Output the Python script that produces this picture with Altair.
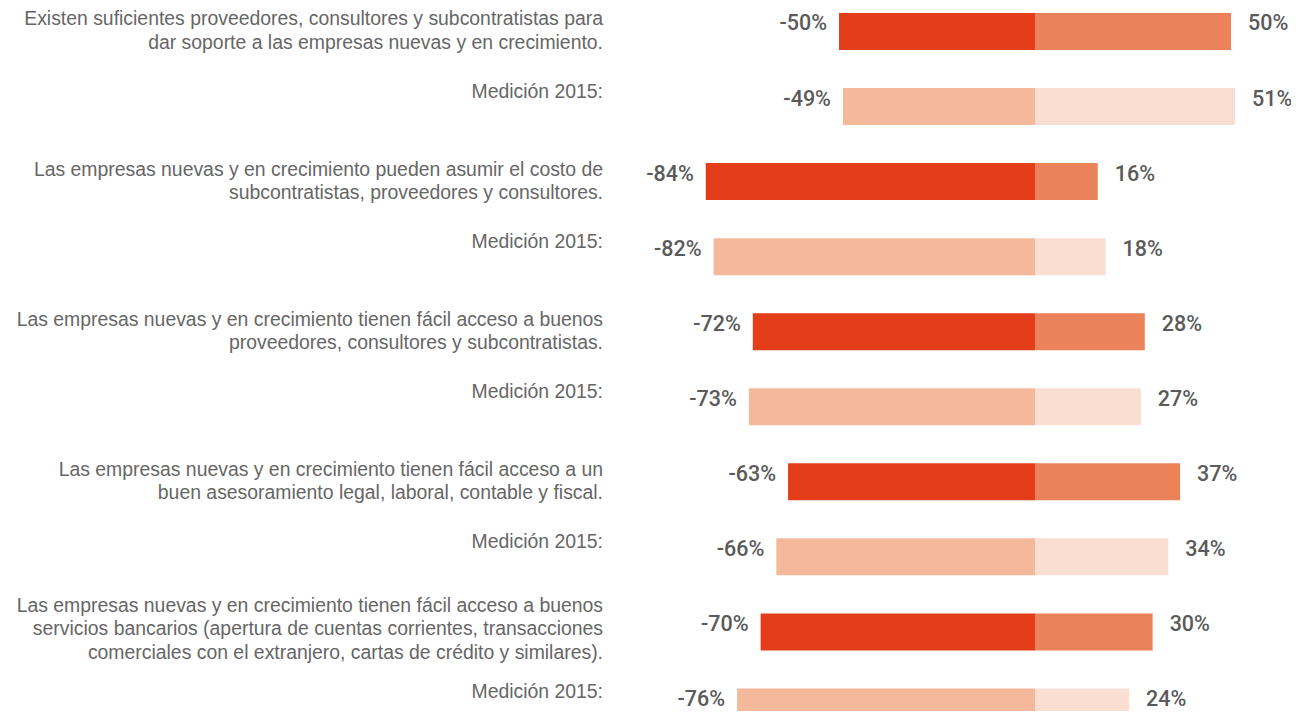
import altair as alt
import pandas as pd

questions = [
    "Existen suficientes proveedores, consultores y subcontratistas para\ndar soporte a las empresas nuevas y en crecimiento.",
    "Las empresas nuevas y en crecimiento pueden asumir el costo de\nsubcontratistas, proveedores y consultores.",
    "Las empresas nuevas y en crecimiento tienen fácil acceso a buenos\nproveedores, consultores y subcontratistas.",
    "Las empresas nuevas y en crecimiento tienen fácil acceso a un\nbuen asesoramiento legal, laboral, contable y fiscal.",
    "Las empresas nuevas y en crecimiento tienen fácil acceso a buenos\nservicios bancarios (apertura de cuentas corrientes, transacciones\ncomerciales con el extranjero, cartas de crédito y similares).",
]
previous_label = "Medición 2015:"
neg_current = [-50, -84, -72, -63, -70]
pos_current = [50, 16, 28, 37, 30]
neg_2015 = [-49, -82, -73, -66, -76]
pos_2015 = [51, 18, 27, 34, 24]

rows = []
bars = []
for i, q in enumerate(questions):
    for k, (kind, lab, n, p) in enumerate([
        ("actual", q, neg_current[i], pos_current[i]),
        ("2015", previous_label, neg_2015[i], pos_2015[i]),
    ]):
        idx = 2 * i + k
        rows.append(dict(idx=idx, kind=kind, label=lab, neg=n, pos=p,
                         neg_txt=f"{n}%", pos_txt=f"{p}%"))
        bars.append(dict(idx=idx, key=kind + "_neg", start=0, end=n))
        bars.append(dict(idx=idx, key=kind + "_pos", start=0, end=p))

df = pd.DataFrame(rows)
bdf = pd.DataFrame(bars)

W, H = 1283, 703
xscale = alt.Scale(domain=[-262, 65.3], nice=False, zero=False, padding=0)
yscale = alt.Scale(domain=[-0.313, 9.054], reverse=True, nice=False, zero=False, padding=0)

bar = alt.Chart(bdf).mark_bar(height=37).encode(
    x=alt.X("start:Q", scale=xscale, axis=None),
    x2="end:Q",
    y=alt.Y("idx:Q", scale=yscale, axis=None),
    color=alt.Color("key:N", legend=None, scale=alt.Scale(
        domain=["actual_neg", "actual_pos", "2015_neg", "2015_pos"],
        range=["#E33D1A", "#EB825A", "#F4B89B", "#F9DED1"])),
)

pct_style = dict(baseline="middle", dy=-7, font="Roboto", fontWeight=500,
                 fontSize=21.5, color="#5a5a5a")
neg_lbl = alt.Chart(df).mark_text(align="right", dx=-12, **pct_style).encode(
    x=alt.X("neg:Q", scale=xscale),
    y=alt.Y("idx:Q", scale=yscale),
    text="neg_txt:N",
)
pos_lbl = alt.Chart(df).mark_text(align="left", dx=17, **pct_style).encode(
    x=alt.X("pos:Q", scale=xscale),
    y=alt.Y("idx:Q", scale=yscale),
    text="pos_txt:N",
)

lab_style = dict(align="right", baseline="middle", lineBreak="\n", lineHeight=23.5,
                 font="Liberation Sans", fontSize=19.4, color="#666666")
base_lab = alt.Chart(df).transform_calculate(
    nlines="length(split(datum.label, '\\n'))"
)
q2_lbl = base_lab.transform_filter(
    (alt.datum.kind == "actual") & (alt.datum.nlines == 2)
).mark_text(dy=-12, **lab_style).encode(
    x=alt.value(595), y=alt.Y("idx:Q", scale=yscale), text="label:N",
)
q3_lbl = base_lab.transform_filter(
    (alt.datum.kind == "actual") & (alt.datum.nlines == 3)
).mark_text(dy=-26, **lab_style).encode(
    x=alt.value(595), y=alt.Y("idx:Q", scale=yscale), text="label:N",
)
m_lbl = base_lab.transform_filter(alt.datum.kind == "2015").mark_text(
    dy=-15, **lab_style
).encode(
    x=alt.value(595), y=alt.Y("idx:Q", scale=yscale), text="label:N",
)

chart = alt.layer(bar, neg_lbl, pos_lbl, q2_lbl, q3_lbl, m_lbl).properties(
    width=W, height=H, padding=0, background="white",
    autosize=alt.AutoSizeParams(type="none")
).configure_view(stroke=None)

chart.save("out.html", embed_options={"renderer": "svg", "actions": False})
